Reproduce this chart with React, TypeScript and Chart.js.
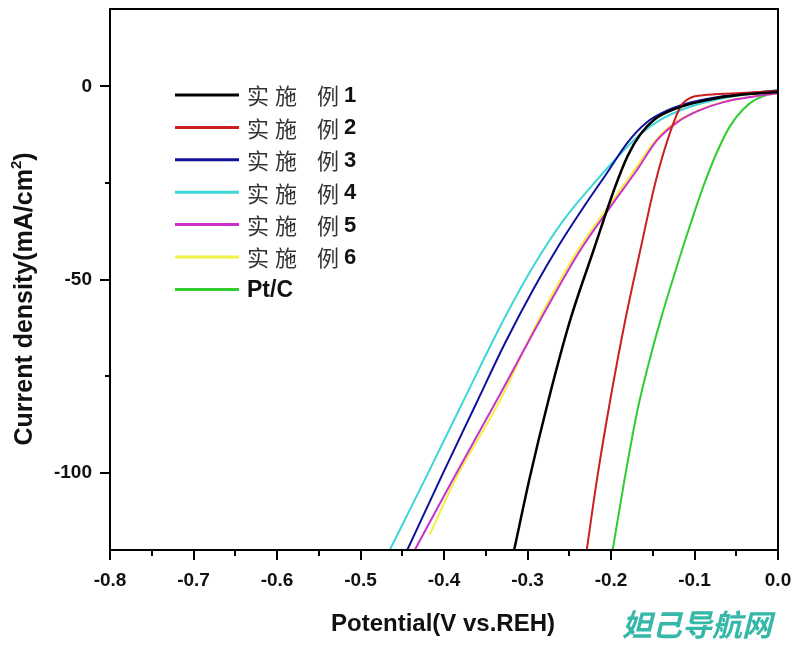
import { useEffect, useRef } from "react";
import { Chart, registerables } from "chart.js";
Chart.register(...registerables);

// ---- data (Potential V vs. REH, current density mA/cm²) ----
const labels = ["实 施 例 1", "实 施 例 2", "实 施 例 3", "实 施 例 4", "实 施 例 5", "实 施 例 6", "Pt/C"];
const colors = ["#000000", "#cc2020", "#10109a", "#3fd6d6", "#cc30cc", "#f2f040", "#30cc30"];

const ex1X = [-0.316, -0.297, -0.275, -0.249, -0.221, -0.195, -0.18, -0.165, -0.148, -0.125, -0.1, -0.069, -0.035, 0];
const ex1Y = [-120, -101, -81.3, -60.6, -42.5, -26, -18, -12.5, -8.6, -6, -4.3, -2.9, -2.0, -1.5];

const ex2X = [-0.229, -0.217, -0.201, -0.183, -0.165, -0.147, -0.129, -0.116, -0.104, -0.09, -0.05, 0];
const ex2Y = [-120, -102, -81.3, -60.6, -42.5, -25, -11.8, -5.0, -2.9, -2.3, -1.8, -1.2];

const ex3X = [-0.444, -0.402, -0.363, -0.327, -0.293, -0.262, -0.232, -0.205, -0.18, -0.157, -0.133, -0.105, -0.07, -0.035, 0];
const ex3Y = [-120, -100.5, -82.8, -66.5, -52.5, -41, -31, -22.5, -14.5, -9.3, -6.3, -4.2, -2.7, -1.8, -1.0];

const ex4X = [-0.465, -0.42, -0.377, -0.329, -0.292, -0.257, -0.222, -0.193, -0.167, -0.142, -0.112, -0.077, -0.04, 0];
const ex4Y = [-120, -100.5, -81.5, -60.6, -46.2, -34.7, -25.5, -18.5, -12.8, -8.8, -5.8, -3.6, -2.2, -1.3];

const ex5X = [-0.435, -0.39, -0.337, -0.285, -0.237, -0.2, -0.17, -0.145, -0.12, -0.095, -0.065, -0.03, 0];
const ex5Y = [-120, -102, -81.3, -60.6, -42.5, -31, -22, -14, -9.2, -6.3, -4.1, -2.7, -1.8];

const ex6X = [-0.417, -0.387, -0.333, -0.287, -0.24, -0.203, -0.173, -0.148, -0.122, -0.095, -0.065, -0.03, 0];
const ex6Y = [-116, -102, -81.3, -60.6, -42.5, -31, -22, -14.3, -9.2, -6.2, -4.0, -2.6, -1.9];

const ptcX = [-0.198, -0.184, -0.168, -0.154, -0.14, -0.126, -0.113, -0.1, -0.087, -0.073, -0.058, -0.042, -0.025, 0];
const ptcY = [-120, -102, -83.5, -71, -60, -50, -41, -32.5, -24.5, -17, -10.5, -6, -3.2, -1.5];

const seriesX = [ex1X, ex2X, ex3X, ex4X, ex5X, ex6X, ptcX];
const seriesY = [ex1Y, ex2Y, ex3Y, ex4Y, ex5Y, ex6Y, ptcY];

const xMajorTicks = [-0.8, -0.7, -0.6, -0.5, -0.4, -0.3, -0.2, -0.1, 0.0];
const xMinorTicks = [-0.75, -0.65, -0.55, -0.45, -0.35, -0.25, -0.15, -0.05];
const yMajorTicks = [0, -50, -100];
const yMinorTicks = [-25, -75];

const xTitle = "Potential(V vs.REH)";
const yTitleMain = "Current density(mA/cm";
const yTitleSup = "2";
const yTitleEnd = ")";
const watermark = "妲己导航网";

const FONT = "'Liberation Sans', Arial, sans-serif";

const framePlugin = {
  id: "frame",
  afterDraw(chart: any) {
    const { ctx, chartArea: a, scales } = chart;
    const xs = scales.x;
    const ys = scales.y;
    ctx.save();
    ctx.strokeStyle = "#000";
    ctx.lineWidth = 2;
    ctx.strokeRect(a.left, a.top, a.right - a.left, a.bottom - a.top);
    // ticks
    ctx.beginPath();
    xMajorTicks.forEach((v) => {
      const p = Math.round(xs.getPixelForValue(v));
      ctx.moveTo(p, a.bottom);
      ctx.lineTo(p, a.bottom + 10);
    });
    xMinorTicks.forEach((v) => {
      const p = Math.round(xs.getPixelForValue(v));
      ctx.moveTo(p, a.bottom);
      ctx.lineTo(p, a.bottom + 6);
    });
    yMajorTicks.forEach((v) => {
      const p = Math.round(ys.getPixelForValue(v));
      ctx.moveTo(a.left, p);
      ctx.lineTo(a.left - 10, p);
    });
    yMinorTicks.forEach((v) => {
      const p = Math.round(ys.getPixelForValue(v));
      ctx.moveTo(a.left, p);
      ctx.lineTo(a.left - 5, p);
    });
    ctx.stroke();

    // axis titles
    ctx.fillStyle = "#111";
    ctx.font = `bold 24px ${FONT}`;
    ctx.textAlign = "center";
    ctx.textBaseline = "middle";
    ctx.fillText(xTitle, (a.left + a.right) / 2 - 1, 624);

    ctx.save();
    ctx.translate(25, 299);
    ctx.rotate(-Math.PI / 2);
    ctx.font = `bold 25px ${FONT}`;
    const w1 = ctx.measureText(yTitleMain).width;
    const w3 = ctx.measureText(yTitleEnd).width;
    ctx.font = `bold 15px ${FONT}`;
    const w2 = ctx.measureText(yTitleSup).width;
    const total = w1 + w2 + w3;
    const x0 = -total / 2;
    ctx.textAlign = "left";
    ctx.font = `bold 25px ${FONT}`;
    ctx.fillText(yTitleMain, x0, 0);
    ctx.font = `bold 15px ${FONT}`;
    ctx.fillText(yTitleSup, x0 + w1, -8);
    ctx.font = `bold 25px ${FONT}`;
    ctx.fillText(yTitleEnd, x0 + w1 + w2, 0);
    ctx.restore();

    // legend
    const offs = [0, 28, 70, 97];
    chart.data.datasets.forEach((ds: any, i: number) => {
      const y = 95 + i * 32.4;
      ctx.strokeStyle = ds.borderColor;
      ctx.lineWidth = 3;
      ctx.beginPath();
      ctx.moveTo(175, y);
      ctx.lineTo(239, y);
      ctx.stroke();
      ctx.textAlign = "left";
      ctx.textBaseline = "middle";
      const parts = String(ds.label).split(" ");
      if (parts.length === 1) {
        ctx.fillStyle = "#111";
        ctx.font = `bold 23px ${FONT}`;
        ctx.fillText(parts[0], 247, y + 1);
      } else {
        parts.forEach((p: string, k: number) => {
          const isNum = k === parts.length - 1;
          ctx.fillStyle = isNum ? "#111" : "#333";
          ctx.font = isNum ? `bold 22px ${FONT}` : "22px 'Noto Sans CJK SC', sans-serif";
          ctx.fillText(p, 247 + offs[k], y + 1);
        });
      }
    });

    // watermark
    ctx.fillStyle = "#35b8a8";
    ctx.font = "italic bold 30px 'Noto Sans CJK SC', sans-serif";
    ctx.textAlign = "left";
    ctx.textBaseline = "middle";
    ctx.fillText(watermark, 622, 625);
    ctx.restore();
  },
};

export default function App() {
  const ref = useRef<HTMLCanvasElement | null>(null);
  useEffect(() => {
    if (!ref.current) return;
    const datasets = seriesX.map((xs, i) => ({
      label: labels[i],
      data: xs.map((x, j) => ({ x, y: seriesY[i][j] })),
      borderColor: colors[i],
      backgroundColor: colors[i],
      borderWidth: i === 0 ? 2.5 : 2,
      pointRadius: 0,
      showLine: true,
      cubicInterpolationMode: "monotone" as const,
    }));
    const zeroPad = (s: any) => {
      s.paddingLeft = 0;
      s.paddingRight = 0;
      s.paddingTop = 0;
      s.paddingBottom = 0;
    };
    const chart = new Chart(ref.current, {
      type: "scatter",
      data: { datasets },
      options: {
        animation: false,
        responsive: false,
        layout: { padding: { left: 0, top: 9, right: 22, bottom: 0 } },
        plugins: { legend: { display: false }, tooltip: { enabled: false } },
        scales: {
          x: {
            type: "linear",
            min: -0.8,
            max: 0,
            afterBuildTicks: (s: any) => {
              s.ticks = xMajorTicks.map((v) => ({ value: v }));
            },
            afterFit: (s: any) => {
              s.height = 96;
              zeroPad(s);
            },
            grid: { display: false, drawTicks: false },
            border: { display: false },
            ticks: {
              padding: 19,
              color: "#111",
              font: { family: FONT, size: 19, weight: "bold" },
              maxRotation: 0,
              autoSkip: false,
              callback: (v: any) => {
                const n = Number(v);
                return Math.abs(n) < 1e-9 ? "0.0" : n.toFixed(1);
              },
            },
          },
          y: {
            type: "linear",
            min: -120,
            max: 20,
            afterBuildTicks: (s: any) => {
              s.ticks = yMajorTicks.map((v) => ({ value: v }));
            },
            afterFit: (s: any) => {
              s.width = 110;
              zeroPad(s);
            },
            grid: { display: false, drawTicks: false },
            border: { display: false },
            ticks: {
              padding: 18,
              color: "#111",
              font: { family: FONT, size: 19, weight: "bold" },
              autoSkip: false,
              callback: (v: any) => String(Number(v)),
            },
          },
        },
      },
      plugins: [framePlugin],
    });
    return () => chart.destroy();
  }, []);
  return (
    <div style={{ position: "absolute", left: 0, top: 0, width: 800, height: 646, background: "#fff" }}>
      <canvas ref={ref} width={800} height={646} style={{ display: "block" }} />
    </div>
  );
}
